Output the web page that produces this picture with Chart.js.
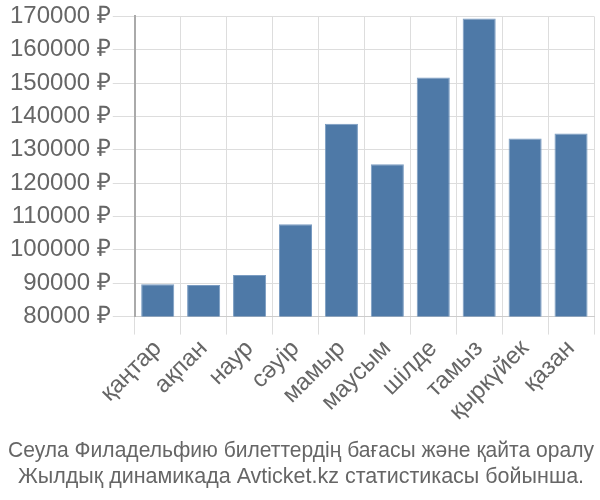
<!DOCTYPE html>
<html lang="kk">
<head>
    <meta charset="UTF-8">
    <title>Сеула Филадельфию билеттердің бағасы</title>
    <script src="https://cdn.jsdelivr.net/npm/chart.js"></script>
    <style>
        html, body { margin: 0; padding: 0; background: #fff; }
        .chart-container { width: 600px; height: 500px; }
    </style>
</head>
<body>
    <div class="chart-container"><canvas id="priceChart"></canvas></div>

    <script>
        // Айлар мен бағалар
        const months = ["қаңтар", "ақпан", "наур", "сәуір", "мамыр", "маусым", "шілде", "тамыз", "қыркүйек", "қазан"];
        const prices = [89700, 89500, 92500, 107700, 137800, 125700, 151700, 169400, 133400, 134900];
        const titleLines = [
            "Сеула Филадельфию билеттердің бағасы және қайта оралу",
            "Жылдық динамикада Avticket.kz статистикасы бойынша."
        ];

        Chart.defaults.font.family = "'Liberation Sans', Arial, sans-serif";
        Chart.defaults.color = "#666";

        new Chart(document.getElementById("priceChart").getContext("2d"), {
            type: "bar",
            data: {
                labels: months,
                datasets: [{
                    data: prices,
                    backgroundColor: "#4e79a7",
                    borderColor: "#7a9cc2",
                    borderWidth: 1
                }]
            },
            options: {
                responsive: true,
                maintainAspectRatio: false,
                animation: false,
                layout: { padding: { top: 0, right: 6, left: 8, bottom: 0 } },
                plugins: {
                    legend: { display: false },
                    tooltip: { enabled: false },
                    title: {
                        display: true,
                        position: "bottom",
                        text: titleLines,
                        color: "#666",
                        font: { size: 21.5, weight: "normal", lineHeight: 1.25 },
                        padding: { top: 11, bottom: 9 }
                    }
                },
                scales: {
                    x: {
                        grid: { color: "#ddd", tickLength: 18 },
                        border: { color: "#ccc" },
                        ticks: { font: { size: 24 }, maxRotation: 45, minRotation: 45, padding: 0 }
                    },
                    y: {
                        min: 80000,
                        max: 170000,
                        grid: { color: "#ddd", tickLength: 22 },
                        border: { color: "#aaa", width: 2 },
                        ticks: {
                            stepSize: 10000,
                            font: { size: 24 },
                            padding: 2,
                            callback: v => v + " ₽"
                        }
                    }
                }
            }
        });
    </script>
</body>
</html>
